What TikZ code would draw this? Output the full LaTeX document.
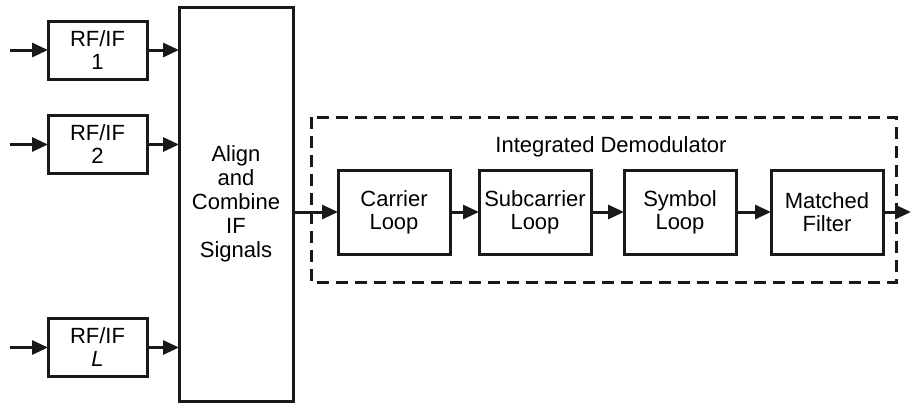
\documentclass[tikz,border=0pt]{standalone}
\usepackage{fontspec}
\setmainfont{Liberation Sans}
\usepackage{tikz}
\usetikzlibrary{arrows.meta, positioning}
\tikzset{
rfbox/.style={
    rectangle,
    draw=black!90,
    line width=1.5pt,
    minimum width=49.5pt,
    minimum height=29pt,
    align=center,
    inner sep=0pt,
    outer sep=0pt,
    font=\fontsize{11}{11.5}\selectfont
},
loopbox/.style={
    rfbox,
    minimum width=56pt,
    minimum height=42pt
}}

\begin{document}
\begin{tikzpicture}[
        x=0.5pt, y=-0.5pt,
        >={Triangle[length=8pt, width=7pt]},
        node distance=16pt,
        line width=1.5pt
    ]
    \useasboundingbox (0,0) rectangle (912,404);

    % input branches
    \node[rfbox] (rf1) at (97.5,50) {RF/IF\\1};
    \node[rfbox] (rf2) at (97.5,144.5) {RF/IF\\2};
    \node[rfbox] (rfL) at (97.5,347.5) {RF/IF\\\textit{L}};

    \node[rfbox, minimum width=57pt, minimum height=197pt, font=\fontsize{11}{12}\selectfont]
        (align) at (236,204) {Align\\and\\Combine\\IF\\Signals};

    % demodulator chain
    \node[loopbox] (carrier) at (394,212) {Carrier\\Loop};
    \node[loopbox, right=14.5pt of carrier] (subcar) {Subcarrier\\Loop};
    \node[loopbox, right=16.5pt of subcar] (symbol) {Symbol\\Loop};
    \node[loopbox, right=17.5pt of symbol] (matched) {Matched\\Filter};

    \draw[black!90, dash pattern=on 6pt off 3.5pt] (311,117) rectangle (896,282);
    \node[font=\fontsize{11}{12}\selectfont] (demod) at (611,147) {Integrated Demodulator};

    % free ends
    \coordinate (in1) at (10,50);
    \coordinate (in2) at (10,144.5);
    \coordinate (inL) at (10,347.5);
    \coordinate (out) at (911,212);

    % edges
    \draw[->, black!90] (in1) -- (rf1);
    \draw[->, black!90] (in2) -- (rf2);
    \draw[->, black!90] (inL) -- (rfL);
    \draw[->, black!90] (rf1) -- (align.west |- rf1);
    \draw[->, black!90] (rf2) -- (align.west |- rf2);
    \draw[->, black!90] (rfL) -- (align.west |- rfL);
    \draw[->, black!90] (align.east |- carrier) -- (carrier);
    \draw[->, black!90] (carrier) -- (subcar);
    \draw[->, black!90] (subcar) -- (symbol);
    \draw[->, black!90] (symbol) -- (matched);
    \draw[->, black!90] (matched) -- (out);

\end{tikzpicture}
\end{document}
